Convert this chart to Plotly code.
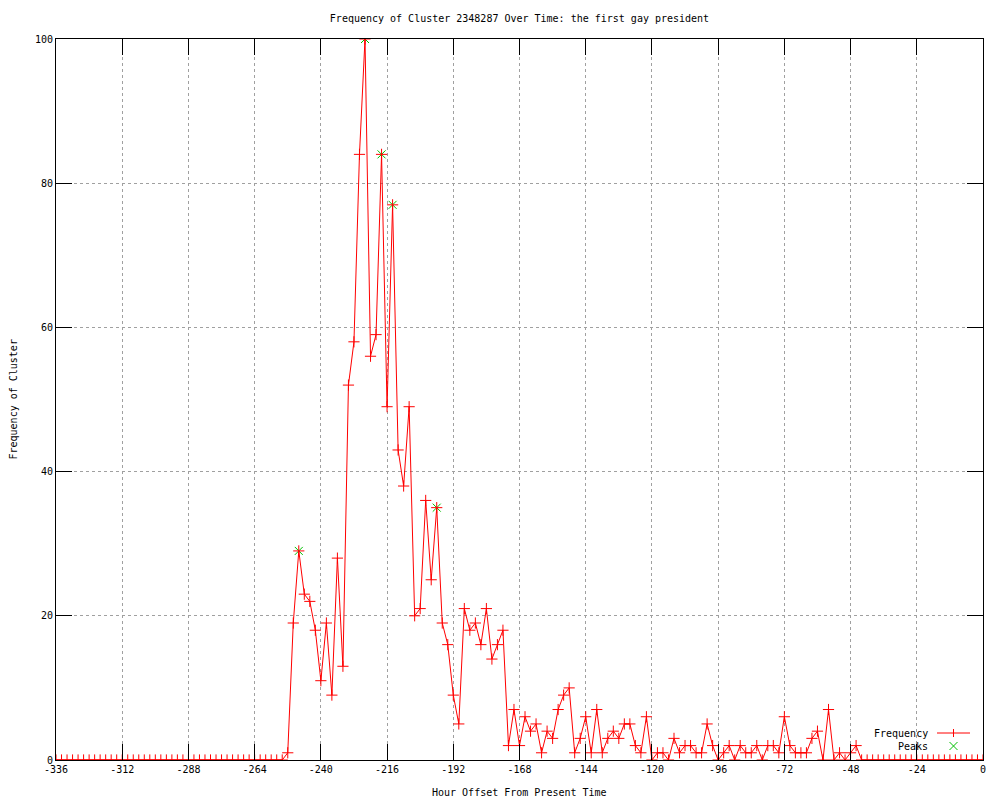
import plotly.graph_objects as go

hours = list(range(-336, 1, 2))
frequency = [
    0, 0, 0, 0, 0, 0, 0, 0, 0, 0, 0, 0, 0, 0, 0, 0, 0, 0, 0, 0, 0,
    0, 0, 0, 0, 0, 0, 0, 0, 0, 0, 0, 0, 0, 0, 0, 0, 0, 0, 0, 0, 0,
    1, 19, 29, 23, 22, 18, 11, 19, 9, 28, 13, 52, 58, 84, 100, 56, 59, 84,
    49, 77, 43, 38, 49, 20, 21, 36, 25, 35, 19, 16, 9, 5, 21, 18, 19, 16,
    21, 14, 16, 18, 2, 7, 2, 6, 4, 5, 1, 4, 3, 7, 9, 10, 1, 3, 6, 1, 7,
    1, 3, 4, 3, 5, 5, 2, 1, 6, 0, 1, 1, 0, 3, 1, 2, 2, 1, 1, 5, 2, 0, 1,
    2, 0, 2, 1, 1, 2, 0, 2, 2, 1, 6, 2, 1, 1, 1, 3, 4, 0, 7, 0, 1, 0, 1,
    2, 0,
    0, 0, 0, 0, 0, 0, 0, 0, 0, 0, 0, 0, 0, 0, 0, 0, 0, 0, 0, 0, 0, 0,
]
peak_hours = [-248, -224, -218, -214, -198]
peak_values = [29, 100, 84, 77, 35]

x_ticks = [-336, -312, -288, -264, -240, -216, -192, -168, -144, -120, -96, -72, -48, -24, 0]
x_tick_text = [str(v) for v in x_ticks]
y_ticks = [0, 20, 40, 60, 80, 100]

title = "Frequency of Cluster 2348287 Over Time: the first gay president"
x_title = "Hour Offset From Present Time"
y_title = "Frequency of Cluster"

FONT = "DejaVu Sans Mono"
RED = "#ff0000"
GREEN = "#00c000"

fig = go.Figure()
fig.add_trace(go.Scatter(
    x=peak_hours, y=peak_values, mode="markers", name="Peaks",
    marker=dict(symbol="x-thin", size=8, line=dict(color=GREEN, width=1), color=GREEN),
    showlegend=False, hoverinfo="x+y",
))
fig.add_trace(go.Scatter(
    x=hours, y=frequency, mode="lines+markers", name="Frequency",
    line=dict(color=RED, width=1),
    marker=dict(symbol="cross-thin", size=8, line=dict(color=RED, width=1), color=RED),
    showlegend=False,
))

axis_common = dict(
    showline=True, linecolor="black", linewidth=1, mirror="ticks",
    ticks="inside", ticklen=16, tickcolor="black", tickwidth=1,
    showgrid=True, gridcolor="#a0a0a0", griddash="dot", gridwidth=1,
    zeroline=False, tickfont=dict(family=FONT, size=10, color="black"),
)
fig.update_xaxes(range=[-336, 0], tickvals=x_ticks, ticktext=x_tick_text, **axis_common)
fig.update_yaxes(range=[0, 100], tickvals=y_ticks, **axis_common)

# legend drawn gnuplot-style (text left of sample)
def px(xp):
    return (xp - 56) / 927.0

def py(yp):
    return (760 - yp) / 721.0

shapes = [
    dict(type="line", xref="paper", yref="paper", x0=px(937), x1=px(970), y0=py(733), y1=py(733),
         line=dict(color=RED, width=1)),
    dict(type="line", xref="paper", yref="paper", x0=px(953.5), x1=px(953.5), y0=py(729), y1=py(737),
         line=dict(color=RED, width=1)),
    dict(type="line", xref="paper", yref="paper", x0=px(949.5), x1=px(957.5), y0=py(742), y1=py(750),
         line=dict(color=GREEN, width=1)),
    dict(type="line", xref="paper", yref="paper", x0=px(949.5), x1=px(957.5), y0=py(750), y1=py(742),
         line=dict(color=GREEN, width=1)),
]

annotations = [
    dict(text="Frequency", xref="paper", yref="paper", x=px(930), y=py(733), xanchor="right",
         yanchor="middle", showarrow=False, font=dict(family=FONT, size=10, color="black")),
    dict(text="Peaks", xref="paper", yref="paper", x=px(930), y=py(746), xanchor="right",
         yanchor="middle", showarrow=False, font=dict(family=FONT, size=10, color="black")),
    dict(text=x_title, xref="paper", yref="paper", x=0.5, y=py(792), xanchor="center",
         yanchor="middle", showarrow=False, font=dict(family=FONT, size=10, color="black")),
    dict(text=y_title, xref="paper", yref="paper", x=px(13), y=0.5, xanchor="center",
         yanchor="middle", textangle=-90, showarrow=False, font=dict(family=FONT, size=10, color="black")),
]

fig.update_layout(
    width=1000, height=800,
    margin=dict(l=56, r=17, t=39, b=40),
    paper_bgcolor="white", plot_bgcolor="white",
    title=dict(text=title, x=0.5, xref="paper", y=1 - 18 / 800, yref="container",
               xanchor="center", yanchor="middle", font=dict(family=FONT, size=10, color="black")),
    shapes=shapes, annotations=annotations,
    showlegend=False,
)

fig.write_html("out.html", config={"displayModeBar": False},
               post_script="document.body.style.margin='0px';")
